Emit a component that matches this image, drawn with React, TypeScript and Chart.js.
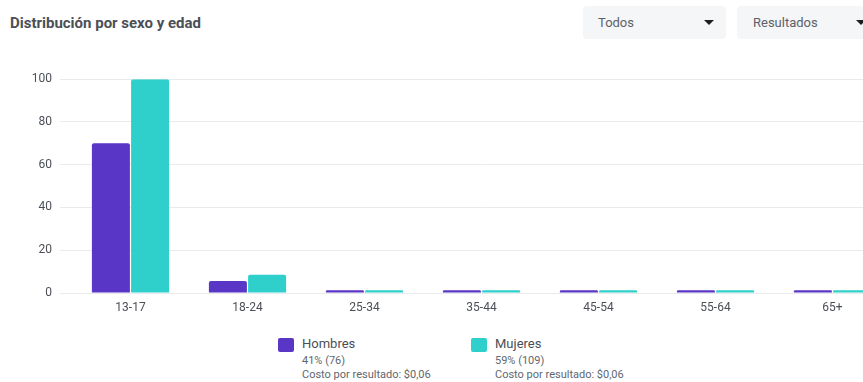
import React, { useEffect, useRef } from "react";
import { Chart, registerables } from "chart.js";

Chart.register(...registerables);

const categories = ["13-17", "18-24", "25-34", "35-44", "45-54", "55-64", "65+"];
const hombres = [70, 5.6, 1.3, 1.3, 1.3, 1.3, 1.3];
const mujeres = [100, 8.5, 1.3, 1.3, 1.3, 1.3, 1.3];
const yTicks = [0, 20, 40, 60, 80, 100];
const seriesNames = ["Hombres", "Mujeres"];
const seriesShares = ["41% (76)", "59% (109)"];
const seriesCosts = ["Costo por resultado: $0,06", "Costo por resultado: $0,06"];

const PURPLE = "#5a36c6";
const TEAL = "#2fcfcb";
const FONT = "Roboto, 'Noto Sans', sans-serif";

function Caret({ left, top }: { left: number; top: number }) {
  return (
    <div
      style={{
        position: "absolute",
        left,
        top,
        width: 0,
        height: 0,
        borderLeft: "5px solid transparent",
        borderRight: "5px solid transparent",
        borderTop: "5px solid #1c1e21",
      }}
    />
  );
}

export default function App() {
  const ref = useRef<HTMLCanvasElement | null>(null);

  useEffect(() => {
    if (!ref.current) return;
    const chart = new Chart(ref.current, {
      type: "bar",
      data: {
        labels: categories,
        datasets: [
          {
            label: seriesNames[0],
            data: hombres,
            backgroundColor: PURPLE,
            borderRadius: { topLeft: 2, topRight: 2, bottomLeft: 0, bottomRight: 0 },
            borderSkipped: false,
            categoryPercentage: 0.67,
            barPercentage: 0.97,
          },
          {
            label: seriesNames[1],
            data: mujeres,
            backgroundColor: TEAL,
            borderRadius: { topLeft: 2, topRight: 2, bottomLeft: 0, bottomRight: 0 },
            borderSkipped: false,
            categoryPercentage: 0.67,
            barPercentage: 0.97,
          },
        ],
      },
      options: {
        animation: false,
        responsive: false,
        maintainAspectRatio: false,
        devicePixelRatio: 1,
        layout: { padding: { top: 10, right: 4, bottom: 0, left: 0 } },
        plugins: {
          legend: { display: false },
          tooltip: { enabled: false },
        },
        scales: {
          x: {
            grid: { display: false, drawTicks: false },
            border: { display: false },
            ticks: {
              color: "#4b4f56",
              font: { family: FONT, size: 12 },
              padding: 8,
              maxRotation: 0,
            },
            afterFit: (s: any) => {
              s.height = 30;
            },
          },
          y: {
            min: 0,
            max: 100,
            afterBuildTicks: (s: any) => {
              s.ticks = yTicks.map((v) => ({ value: v }));
            },
            grid: { color: "#e9eaec", lineWidth: 1, tickLength: 12, drawTicks: true },
            border: { display: false },
            ticks: {
              color: "#4b4f56",
              font: { family: FONT, size: 12 },
              padding: 8,
            },
            afterFit: (s: any) => {
              s.width = 72;
            },
          },
        },
      },
    });
    return () => chart.destroy();
  }, []);

  return (
    <div
      style={{
        position: "fixed",
        left: 0,
        top: 0,
        width: 863,
        height: 382,
        overflow: "hidden",
        background: "#ffffff",
        fontFamily: FONT,
      }}
    >
      <div
        style={{
          position: "absolute",
          left: 10,
          top: 14,
          fontSize: 15,
          fontWeight: 700,
          color: "#4b4f56",
          whiteSpace: "nowrap",
        }}
      >
        Distribución por sexo y edad
      </div>

      <div
        style={{
          position: "absolute",
          left: 583,
          top: 6,
          width: 143,
          height: 33,
          background: "#f5f6f7",
          borderRadius: 4,
        }}
      />
      <div style={{ position: "absolute", left: 598, top: 15, fontSize: 13, color: "#5d6168" }}>Todos</div>
      <Caret left={704} top={20} />

      <div
        style={{
          position: "absolute",
          left: 737,
          top: 6,
          width: 150,
          height: 33,
          background: "#f5f6f7",
          borderRadius: 4,
        }}
      />
      <div style={{ position: "absolute", left: 753, top: 15, fontSize: 13, color: "#5d6168" }}>Resultados</div>
      <Caret left={856} top={20} />

      <canvas
        ref={ref}
        width={895}
        height={259}
        style={{ position: "absolute", left: 0, top: 64, width: 895, height: 259 }}
      />

      {[0, 1].map((i) => {
        const left = i === 0 ? 278 : 471;
        const color = i === 0 ? PURPLE : TEAL;
        return (
          <div key={i} style={{ position: "absolute", left, top: 336 }}>
            <div
              style={{
                position: "absolute",
                left: 0,
                top: 2,
                width: 16,
                height: 14,
                background: color,
                borderRadius: 2,
              }}
            />
            <div
              style={{
                position: "absolute",
                left: 24,
                top: 0,
                fontSize: 13,
                color: "#4b4f56",
                whiteSpace: "nowrap",
                lineHeight: "16px",
              }}
            >
              {seriesNames[i]}
            </div>
            <div
              style={{
                position: "absolute",
                left: 24,
                top: 18,
                fontSize: 11,
                color: "#606770",
                whiteSpace: "nowrap",
                lineHeight: "14px",
              }}
            >
              {seriesShares[i]}
            </div>
            <div
              style={{
                position: "absolute",
                left: 24,
                top: 32,
                fontSize: 11,
                color: "#606770",
                whiteSpace: "nowrap",
                lineHeight: "14px",
              }}
            >
              {seriesCosts[i]}
            </div>
          </div>
        );
      })}
    </div>
  );
}
